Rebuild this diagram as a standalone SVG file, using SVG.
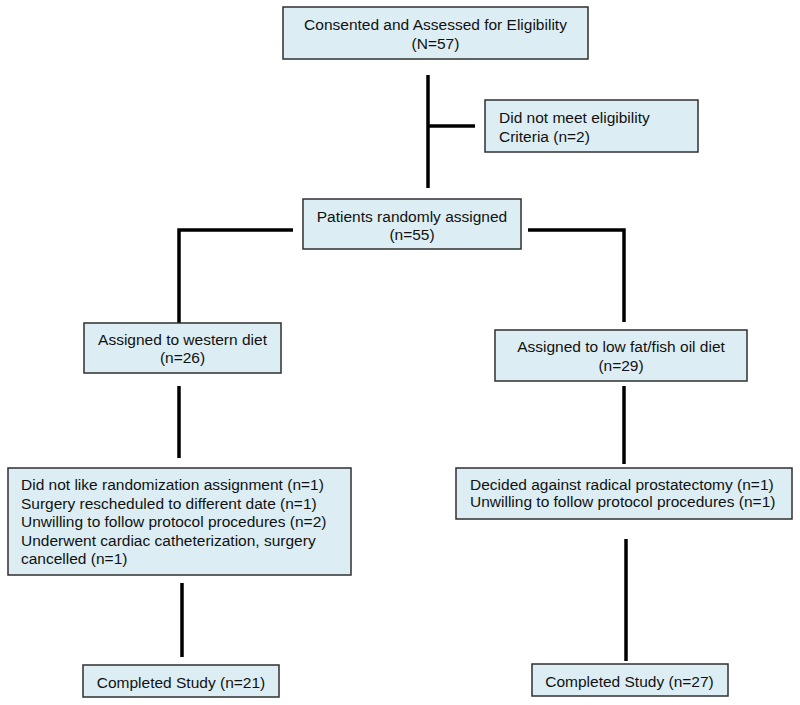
<svg xmlns="http://www.w3.org/2000/svg" width="800" height="705" viewBox="0 0 800 705">
<style>
.box{fill:#dceef4;stroke:#2f2f2f;stroke-width:1.5}
.t{font-family:"Liberation Sans",Arial,sans-serif;font-size:15.5px;fill:#111}
.c{text-anchor:middle}
.ln{stroke:#000;stroke-width:3.5;fill:none}
</style>
<rect width="800" height="705" fill="#fff"/>
<g id="connectors">
<line class="ln" x1="428" y1="75" x2="428" y2="188"/>
<line class="ln" x1="428" y1="126" x2="475" y2="126"/>
<polyline class="ln" points="293,230 179,230 179,323"/>
<polyline class="ln" points="528,230 624,230 624,322"/>
<line class="ln" x1="179" y1="386" x2="179" y2="458"/>
<line class="ln" x1="624" y1="386" x2="624" y2="464"/>
<line class="ln" x1="182" y1="583" x2="182" y2="657"/>
<line class="ln" x1="626" y1="539" x2="626" y2="661"/>
</g>
<g id="consented">
<rect class="box" x="283" y="7" width="305" height="52"/>
<text class="t c" x="435.5" y="30">Consented and Assessed for Eligibility</text>
<text class="t c" x="435.5" y="49">(N=57)</text>
</g>
<g id="excluded">
<rect class="box" x="485" y="100" width="213" height="52"/>
<text class="t" x="499" y="123">Did not meet eligibility</text>
<text class="t" x="499" y="142">Criteria (n=2)</text>
</g>
<g id="randomized">
<rect class="box" x="303" y="199" width="218" height="50"/>
<text class="t c" x="412" y="222">Patients randomly assigned</text>
<text class="t c" x="412" y="240">(n=55)</text>
</g>
<g id="western">
<rect class="box" x="84" y="323" width="197" height="50"/>
<text class="t c" x="182.5" y="345">Assigned to western diet</text>
<text class="t c" x="182.5" y="363">(n=26)</text>
</g>
<g id="lowfat">
<rect class="box" x="495" y="330" width="252" height="51"/>
<text class="t c" x="621" y="352">Assigned to low fat/fish oil diet</text>
<text class="t c" x="621" y="371">(n=29)</text>
</g>
<g id="western-dropouts">
<rect class="box" x="8" y="468" width="343" height="107"/>
<text class="t" x="21" y="490">Did not like randomization assignment (n=1)</text>
<text class="t" x="21" y="509">Surgery rescheduled to different date (n=1)</text>
<text class="t" x="21" y="527">Unwilling to follow protocol procedures (n=2)</text>
<text class="t" x="21" y="546">Underwent cardiac catheterization, surgery</text>
<text class="t" x="21" y="564">cancelled (n=1)</text>
</g>
<g id="lowfat-dropouts">
<rect class="box" x="456" y="468" width="336" height="51"/>
<text class="t" x="470" y="490">Decided against radical prostatectomy (n=1)</text>
<text class="t" x="470" y="507">Unwilling to follow protocol procedures (n=1)</text>
</g>
<g id="western-completed">
<rect class="box" x="83" y="665" width="196" height="32"/>
<text class="t c" x="181" y="688">Completed Study (n=21)</text>
</g>
<g id="lowfat-completed">
<rect class="box" x="532" y="664" width="196" height="32"/>
<text class="t c" x="629.5" y="687">Completed Study (n=27)</text>
</g>
</svg>
